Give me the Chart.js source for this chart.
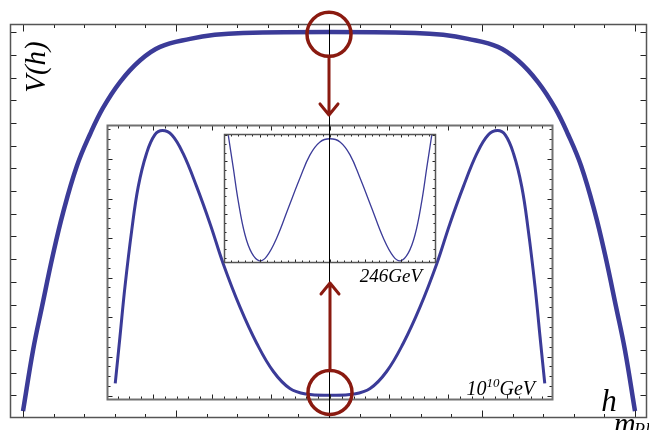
<!DOCTYPE html>
<html>
<head>
<meta charset="utf-8">
<script src="https://cdn.jsdelivr.net/npm/chart.js@4.4.0/dist/chart.umd.min.js"></script>
<style>
  html, body { margin: 0; padding: 0; background: #fff; }
  #wrap { width: 649px; height: 430px; position: relative; }
</style>
</head>
<body>
<div id="wrap"><canvas id="potential" width="649" height="430"></canvas></div>
<script>
'use strict';

// big plateau, h in units of m_Pl
const outerH = [-1.0, -0.967, -0.938, -0.902, -0.869, -0.824, -0.781, -0.739, -0.683, -0.618, -0.552, -0.454, -0.373, -0.281, 0,
  0.281, 0.373, 0.454, 0.552, 0.618, 0.683, 0.739, 0.781, 0.824, 0.869, 0.902, 0.938, 0.967, 1.0];
const outerV = [0.3, 3.0, 4.9, 7.2, 9.05, 11.1, 12.5, 13.65, 14.8, 15.75, 16.35, 16.7, 16.88, 16.96, 17.0,
  16.96, 16.88, 16.7, 16.35, 15.75, 14.8, 13.65, 12.5, 11.1, 9.05, 7.2, 4.9, 3.0, 0.3];

// zoom at 10^10 GeV
const insetH = [-3.64, -3.56, -3.475, -3.36, -3.25, -3.11, -2.97, -2.84, -2.68, -2.49, -2.26, -2.03, -1.81, -1.525, -1.24, -0.96, -0.68, -0.40, 0,
  0.40, 0.68, 0.96, 1.24, 1.525, 1.81, 2.03, 2.26, 2.49, 2.68, 2.84, 2.97, 3.11, 3.25, 3.36, 3.475, 3.56, 3.64];
const insetV = [0.32, 1.5, 2.77, 4.2, 5.3, 6.14, 6.61, 6.72, 6.61, 6.14, 5.3, 4.35, 3.35, 2.25, 1.33, 0.62, 0.19, 0.05, 0.02,
  0.05, 0.19, 0.62, 1.33, 2.25, 3.35, 4.35, 5.3, 6.14, 6.61, 6.72, 6.61, 6.14, 5.3, 4.2, 2.77, 1.5, 0.32];

// zoom at 246 GeV
const innerH = [-1.443, -1.372, -1.301, -1.206, -1.111, -1.003, -0.898, -0.756, -0.591, -0.426, -0.284, -0.142, 0,
  0.142, 0.284, 0.426, 0.591, 0.756, 0.898, 1.003, 1.111, 1.206, 1.301, 1.372, 1.443];
const innerV = [5.0, 3.75, 2.48, 1.21, 0.52, 0.22, 0.39, 1.09, 2.23, 3.37, 4.25, 4.74, 4.86,
  4.74, 4.25, 3.37, 2.23, 1.09, 0.39, 0.22, 0.52, 1.21, 2.48, 3.75, 5.0];

const curveColor = '#3b3b98';
const red = '#8a1a10';
const serif = "'Liberation Serif', 'DejaVu Serif', serif";

const toPoints = (xs, ys) => xs.map((x, i) => ({ x: x, y: ys[i] }));

const range = (a, b, step) => {
  const out = [];
  for (let v = a; v <= b + 1e-9; v += step) out.push(Math.round(v * 1000) / 1000);
  return out;
};

const isMult = (v, m) => Math.abs(v / m - Math.round(v / m)) < 1e-6;

// frame with inward ticks, drawn through the scales
const drawBox = (ctx, sx, sy, b) => {
  const L = Math.round(sx.getPixelForValue(b.x0)) + 0.5;
  const R = Math.round(sx.getPixelForValue(b.x1)) - 0.5;
  const T = Math.round(sy.getPixelForValue(b.y1)) + 0.5;
  const B = Math.round(sy.getPixelForValue(b.y0)) - 0.5;
  ctx.save();
  ctx.strokeStyle = '#222';
  ctx.lineWidth = 1;
  ctx.beginPath();
  b.xTicks.forEach(v => {
    const px = Math.round(sx.getPixelForValue(v)) + 0.5;
    const len = isMult(v, b.xMajor) ? b.major : b.minor;
    ctx.moveTo(px, T); ctx.lineTo(px, T + len);
    ctx.moveTo(px, B); ctx.lineTo(px, B - len);
  });
  b.yTicks.forEach(v => {
    const py = Math.round(sy.getPixelForValue(v)) + 0.5;
    const len = isMult(v, b.yMajor) ? b.yMajorLen : b.yMinorLen;
    ctx.moveTo(L, py); ctx.lineTo(L + len, py);
    ctx.moveTo(R, py); ctx.lineTo(R - len, py);
  });
  ctx.stroke();
  ctx.strokeStyle = b.color;
  ctx.lineWidth = b.width;
  ctx.strokeRect(L, T, R - L, B - T);
  ctx.restore();
};

const ringArrow = (ctx, cx, cy, r, tipY) => {
  ctx.save();
  ctx.strokeStyle = red;
  ctx.lineCap = 'round';
  ctx.lineJoin = 'round';
  ctx.lineWidth = 3.5;
  ctx.beginPath();
  ctx.arc(cx, cy, r, 0, Math.PI * 2);
  ctx.stroke();
  const dir = tipY > cy ? 1 : -1;
  ctx.lineWidth = 3;
  ctx.beginPath();
  ctx.moveTo(cx, cy + dir * r);
  ctx.lineTo(cx, tipY);
  ctx.moveTo(cx - 9, tipY - dir * 11);
  ctx.lineTo(cx, tipY);
  ctx.lineTo(cx + 9, tipY - dir * 11);
  ctx.stroke();
  ctx.restore();
};

const decorations = {
  id: 'decorations',
  afterDatasetsDraw(chart) {
    const ctx = chart.ctx;
    const s = chart.scales;

    drawBox(ctx, s.x, s.y, {
      x0: s.x.min, x1: s.x.max, y0: s.y.min, y1: s.y.max,
      xTicks: range(-1, 1, 0.1), xMajor: 0.5, minor: 3.5, major: 7,
      yTicks: range(1, 17, 1), yMajor: 100, yMinorLen: 6, yMajorLen: 6,
      color: '#555', width: 1.5
    });
    drawBox(ctx, s.x2, s.y2, {
      x0: -3.78, x1: 3.78, y0: -0.1, y1: 6.86,
      xTicks: range(-3.6, 3.6, 0.2), xMajor: 1, minor: 3, major: 5,
      yTicks: range(0, 6.75, 0.25), yMajor: 1, yMinorLen: 3, yMajorLen: 5,
      color: '#707070', width: 2
    });
    drawBox(ctx, s.x3, s.y3, {
      x0: -1.504, x1: 1.504, y0: 0.137, y1: 5.04,
      xTicks: range(-1.4, 1.4, 0.1), xMajor: 0.5, minor: 2, major: 3,
      yTicks: range(1 / 3, 5, 1 / 3), yMajor: 1, yMinorLen: 2, yMajorLen: 3,
      color: '#555', width: 1.5
    });

    // h = 0 axis through all three panels
    const x0 = Math.round(s.x.getPixelForValue(0)) + 0.5;
    ctx.save();
    ctx.strokeStyle = '#000';
    ctx.lineWidth = 1;
    ctx.beginPath();
    ctx.moveTo(x0, chart.chartArea.top);
    ctx.lineTo(x0, chart.chartArea.bottom);
    ctx.stroke();
    ctx.restore();

    ringArrow(ctx, s.x.getPixelForValue(0), s.y.getPixelForValue(16.9), 22, s.y.getPixelForValue(13.35));
    ringArrow(ctx, s.x2.getPixelForValue(0), s.y2.getPixelForValue(0.09), 22, s.y2.getPixelForValue(2.86));

    // labels
    ctx.save();
    ctx.fillStyle = '#000';
    ctx.font = 'italic 29px ' + serif;
    ctx.textAlign = 'center';
    ctx.textBaseline = 'middle';
    ctx.translate(37, 67);
    ctx.rotate(-Math.PI / 2);
    ctx.fillText('V(h)', 0, 0);
    ctx.restore();

    ctx.save();
    ctx.fillStyle = '#000';
    ctx.textBaseline = 'alphabetic';
    ctx.font = 'italic 31px ' + serif;
    ctx.textAlign = 'center';
    ctx.fillText('h', 609, 411);
    ctx.textAlign = 'left';
    ctx.font = 'italic 30px ' + serif;
    ctx.fillText('m', 614, 433);
    ctx.font = 'italic 18px ' + serif;
    ctx.fillText('Pl', 634, 436);

    // 10^10 GeV
    ctx.font = 'italic 20px ' + serif;
    const wa = ctx.measureText('10').width;
    const wc = ctx.measureText('GeV').width;
    ctx.font = 'italic 13px ' + serif;
    const wb = ctx.measureText('10').width;
    let tx = 535 - (wa + wb + wc);
    ctx.font = 'italic 20px ' + serif;
    ctx.fillText('10', tx, 395);
    tx += wa;
    ctx.font = 'italic 13px ' + serif;
    ctx.fillText('10', tx, 387);
    tx += wb;
    ctx.font = 'italic 20px ' + serif;
    ctx.fillText('GeV', tx, 395);

    ctx.font = 'italic 19px ' + serif;
    ctx.textAlign = 'right';
    ctx.fillText('246GeV', 422, 282);
    ctx.restore();
  }
};

const lineSet = (xs, ys, width, xId, yId) => ({
  data: toPoints(xs, ys),
  xAxisID: xId,
  yAxisID: yId,
  borderColor: curveColor,
  borderWidth: width,
  pointRadius: 0,
  showLine: true,
  fill: false,
  tension: 0.4,
  borderCapStyle: 'butt'
});

new Chart(document.getElementById('potential').getContext('2d'), {
  type: 'scatter',
  data: {
    datasets: [
      lineSet(outerH, outerV, 4.5, 'x', 'y'),
      lineSet(insetH, insetV, 3, 'x2', 'y2'),
      lineSet(innerH, innerV, 1.3, 'x3', 'y3')
    ]
  },
  options: {
    responsive: false,
    animation: false,
    layout: { padding: { left: 10, right: 2, top: 24, bottom: 12 } },
    plugins: { legend: { display: false }, tooltip: { enabled: false } },
    scales: {
      x: { type: 'linear', display: false, min: -1.0425, max: 1.0392 },
      y: { type: 'linear', display: false, min: 0, max: 17.357 },
      x2: { type: 'linear', axis: 'x', display: false, min: -5.4237, max: 5.3729 },
      y2: { type: 'linear', axis: 'y', display: false, min: -0.557, max: 9.418 },
      x3: { type: 'linear', axis: 'x', display: false, min: -4.539, max: 4.496 },
      y3: { type: 'linear', axis: 'y', display: false, min: -5.757, max: 9.224 }
    }
  },
  plugins: [decorations]
});
</script>
</body>
</html>
